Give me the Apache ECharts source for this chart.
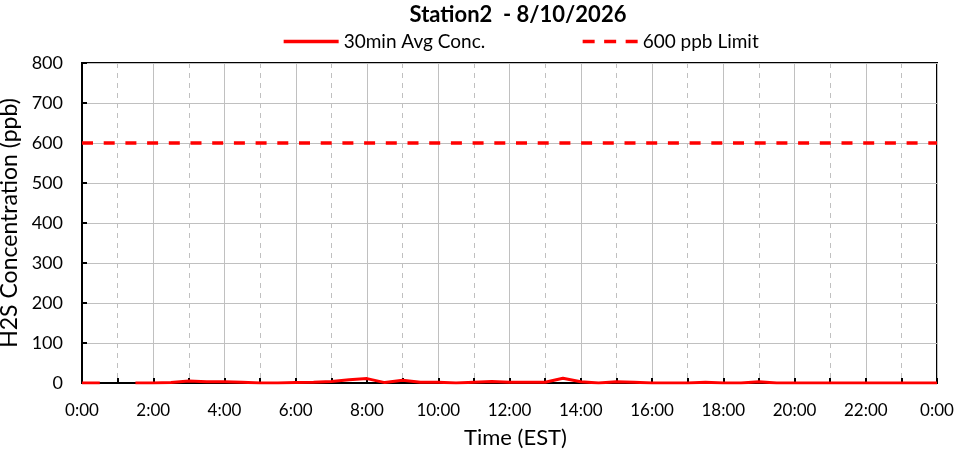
<!DOCTYPE html>
<html><head><meta charset="utf-8">
<script src="https://cdn.jsdelivr.net/npm/echarts@6/dist/echarts.min.js"></script>
<style>html,body{margin:0;padding:0;background:#fff}#c{width:957px;height:453px}</style>
</head><body><div id="c"></div>
<script>
const titleText = 'Station2  - 8/10/2026';
const times = ['0:00','0:30','1:00','1:30','2:00','2:30','3:00','3:30','4:00','4:30','5:00','5:30','6:00','6:30','7:00','7:30','8:00','8:30','9:00','9:30','10:00','10:30','11:00','11:30','12:00','12:30','13:00','13:30','14:00','14:30','15:00','15:30','16:00','16:30','17:00','17:30','18:00','18:30','19:00','19:30','20:00','20:30','21:00','21:30','22:00','22:30','23:00','23:30','24:00'];
const conc = [0,0,null,0,0,1,5,3,3,2,0,0,1,2,4,8,11,1,7,2,2,0,2,4,2,2,2,12,3,0,3,2,0,0,0,2,0,0,3,0,0,0,0,0,0,0,0,0,0];
const limitValue = 600;
const limitTimes = ['0:00','24:00'];
const xTickLabels = ['0:00','2:00','4:00','6:00','8:00','10:00','12:00','14:00','16:00','18:00','20:00','22:00','0:00'];
const yTicks = [0,100,200,300,400,500,600,700,800];
const seriesNames = ['30min Avg Conc.','600 ppb Limit'];

const toHour = s => { const p = s.split(':'); return +p[0] + (+p[1])/60; };
const font = 'Lato, "Noto Sans", sans-serif';
const legendBase = {top:27,itemWidth:55,itemHeight:12,itemGap:5,
  itemStyle:{opacity:0},textStyle:{fontFamily:font,fontSize:19,color:'#000'}};
const chart = echarts.init(document.getElementById('c'));
chart.setOption({
  animation:false,
  title:{text:titleText,left:513,top:-1,textAlign:'center',textStyle:{fontFamily:font,fontSize:22,fontWeight:'bold',color:'#000'}},
  legend:[Object.assign({left:277,data:[seriesNames[0]],lineStyle:{width:3.3}},legendBase),
          Object.assign({left:576,data:[seriesNames[1]],lineStyle:{width:3.3,type:[12,9.5]}},legendBase)],
  grid:{left:82,right:20,top:63,bottom:70,show:true,borderColor:'#000',borderWidth:2,outerBoundsMode:'none',containLabel:false},
  xAxis:[{
    type:'value',min:0,max:24,interval:2,
    name:'Time (EST)',nameLocation:'middle',nameGap:44,nameTextStyle:{fontFamily:font,fontSize:22,color:'#000',padding:[0,0,0,12]},
    axisLine:{lineStyle:{color:'#000',width:2}},
    axisTick:{inside:true,length:5,lineStyle:{color:'#000',width:2}},
    axisLabel:{fontFamily:font,fontSize:17,color:'#000',margin:19,formatter:v=>xTickLabels[Math.round(v/2)]},
    splitLine:{show:true,lineStyle:{color:'#c0c0c0',width:1}}
  },{
    type:'value',min:0,max:24,interval:1,position:'bottom',
    axisLine:{show:false},axisLabel:{show:false},
    axisTick:{inside:true,length:5,lineStyle:{color:'#000',width:2}},
    splitLine:{show:true,lineStyle:{color:'#c0c0c0',width:1,type:[5,5]}}
  }],
  yAxis:{type:'value',min:yTicks[0],max:yTicks[yTicks.length-1],interval:100,
    name:'H2S Concentration (ppb)',nameLocation:'middle',nameGap:53,nameTextStyle:{fontFamily:font,fontSize:23,color:'#000'},
    axisLine:{show:true,lineStyle:{color:'#000',width:2}},
    axisTick:{show:true,inside:true,length:5,lineStyle:{color:'#000',width:2}},
    axisLabel:{fontFamily:font,fontSize:18,color:'#000',margin:19},
    splitLine:{lineStyle:{color:'#c0c0c0',width:1}}
  },
  series:[{
    name:seriesNames[0],type:'line',xAxisIndex:0,symbol:'none',connectNulls:false,
    lineStyle:{color:'#ff0000',width:3},itemStyle:{color:'#ff0000'},
    data:times.map((t,i)=>[toHour(t),conc[i]]),z:5
  },{
    name:seriesNames[1],type:'line',xAxisIndex:0,symbol:'none',
    lineStyle:{color:'#ff0000',width:3.3,type:[11,10.7]},itemStyle:{color:'#ff0000'},
    data:limitTimes.map(t=>[toHour(t),limitValue]),z:4
  }]
});
</script></body></html>
